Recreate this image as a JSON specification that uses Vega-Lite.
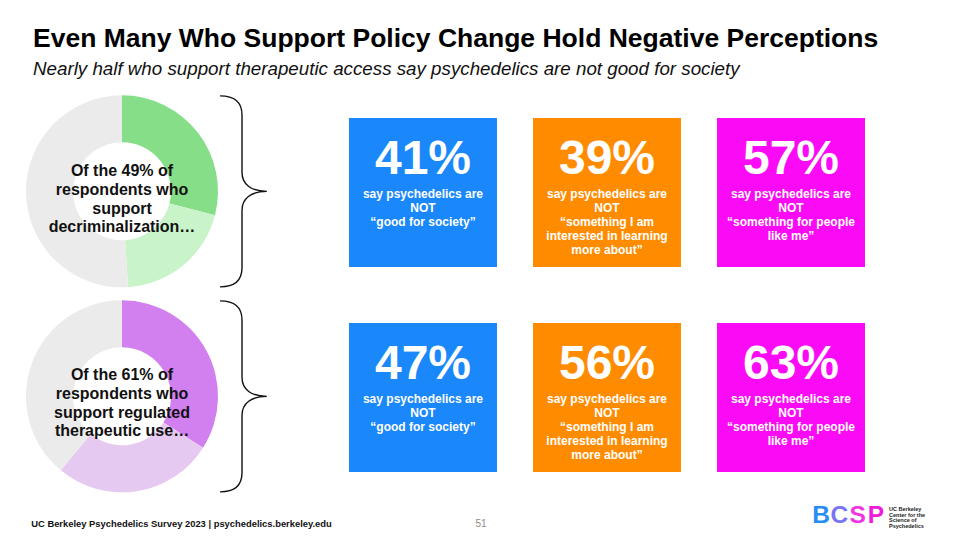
{
  "$schema": "https://vega.github.io/schema/vega-lite/v6.json",
  "background": "white",
  "padding": {"left": 26, "top": 25, "right": 0, "bottom": 0},
  "spacing": 8,
  "resolve": {"scale": {"color": "independent"}},
  "config": {"view": {"stroke": null}, "font": "Liberation Sans"},
  "title": {
    "text": "Even Many Who Support Policy Change Hold Negative Perceptions",
    "subtitle": "Nearly half who support therapeutic access say psychedelics are not good for society",
    "anchor": "start",
    "frame": "group",
    "dx": 7,
    "font": "Liberation Sans",
    "fontSize": 26.5,
    "fontWeight": "bold",
    "color": "#000000",
    "subtitleFont": "Liberation Sans",
    "subtitleFontSize": 18.75,
    "subtitleFontStyle": "italic",
    "subtitleColor": "#111111",
    "subtitlePadding": 8,
    "offset": 14
  },
  "datasets": {
    "donuts": [
      {"group": "decriminalization", "segment": "Decriminalization: other views", "share": 29, "rank": 1},
      {"group": "decriminalization", "segment": "Decriminalization: not good for society", "share": 20, "rank": 2},
      {"group": "decriminalization", "segment": "Decriminalization: do not support", "share": 51, "rank": 3},
      {"group": "therapeutic", "segment": "Therapeutic: other views", "share": 34, "rank": 1},
      {"group": "therapeutic", "segment": "Therapeutic: not good for society", "share": 27, "rank": 2},
      {"group": "therapeutic", "segment": "Therapeutic: do not support", "share": 39, "rank": 3}
    ],
    "labels": [
      {"group": "decriminalization", "label": ["Of the 49% of", "respondents who", "support", "decriminalization…"]},
      {"group": "therapeutic", "label": ["Of the 61% of", "respondents who", "support regulated", "therapeutic use…"]}
    ],
    "boxes": [
      {"group": "decriminalization", "measure": "good for society", "pct": 0.41, "desc": ["say psychedelics are", "NOT", "“good for society”"]},
      {"group": "decriminalization", "measure": "interested in learning", "pct": 0.39, "desc": ["say psychedelics are", "NOT", "“something I am", "interested in learning", "more about”"]},
      {"group": "decriminalization", "measure": "for people like me", "pct": 0.57, "desc": ["say psychedelics are", "NOT", "“something for people", "like me”"]},
      {"group": "therapeutic", "measure": "good for society", "pct": 0.47, "desc": ["say psychedelics are", "NOT", "“good for society”"]},
      {"group": "therapeutic", "measure": "interested in learning", "pct": 0.56, "desc": ["say psychedelics are", "NOT", "“something I am", "interested in learning", "more about”"]},
      {"group": "therapeutic", "measure": "for people like me", "pct": 0.63, "desc": ["say psychedelics are", "NOT", "“something for people", "like me”"]}
    ],
    "braces": [
      {"group": "decriminalization"},
      {"group": "therapeutic"}
    ],
    "footer": [
      {"item": "source", "text": "UC Berkeley Psychedelics Survey 2023 | psychedelics.berkeley.edu"},
      {"item": "page", "text": "51"},
      {"item": "org", "text": ["UC Berkeley", "Center for the", "Science of", "Psychedelics"]}
    ],
    "logo": [
      {"letter": "B"},
      {"letter": "C"},
      {"letter": "S"},
      {"letter": "P"}
    ]
  },
  "vconcat": [
    {
      "vconcat": [
        {
          "hconcat": [
            {
              "hconcat": [
                {
                  "width": 192,
                  "height": 192,
                  "layer": [
                    {
                      "data": {"name": "donuts"},
                      "transform": [{"filter": "datum.group === 'decriminalization'"}],
                      "mark": {"type": "arc", "innerRadius": 49, "outerRadius": 96},
                      "encoding": {
                        "theta": {"field": "share", "type": "quantitative", "stack": true},
                        "order": {"field": "rank", "type": "quantitative"},
                        "color": {
                          "field": "segment",
                          "type": "nominal",
                          "legend": null,
                          "scale": {
                            "domain": ["Decriminalization: other views", "Decriminalization: not good for society", "Decriminalization: do not support", "Therapeutic: other views", "Therapeutic: not good for society", "Therapeutic: do not support"],
                            "range": ["#86df88", "#c9f3c9", "#ebebeb", "#d27ff0", "#e6c9f1", "#ebebeb"]
                          }
                        }
                      }
                    },
                    {
                      "data": {"name": "labels"},
                      "transform": [{"filter": "datum.group === 'decriminalization'"}],
                      "mark": {"type": "text", "fontSize": 16, "fontWeight": "bold", "color": "#111111", "lineHeight": 18.7, "baseline": "middle", "dy": -20},
                      "encoding": {"text": {"field": "label"}}
                    }
                  ]
                },
                {
                  "width": 48,
                  "height": 192,
                  "data": {"name": "braces"},
                  "transform": [{"filter": "datum.group === 'decriminalization'"}],
                  "mark": {"type": "point", "shape": "M -0.23 -1 C -0.08 -1 0 -0.93 0 -0.8 L 0 -0.2 C 0 -0.07 0.1 0 0.26 0 C 0.1 0 0 0.07 0 0.2 L 0 0.8 C 0 0.93 -0.08 1 -0.23 1", "size": 36481, "filled": false, "stroke": "#111111", "strokeWidth": 1.4, "opacity": 1},
                  "encoding": {}
                }
              ],
              "spacing": 0,
              "bounds": "flush"
            },
            {
              "width": 516,
              "height": 149,
              "data": {"name": "boxes"},
              "transform": [{"filter": "datum.group === 'decriminalization'"}],
              "encoding": {
                "x": {"field": "measure", "type": "nominal", "axis": null, "scale": {"domain": ["good for society", "interested in learning", "for people like me"], "paddingInner": 0.1957, "paddingOuter": 0}}
              },
              "layer": [
                {
                  "mark": {"type": "bar"},
                  "encoding": {
                    "color": {"field": "measure", "type": "nominal", "legend": null, "scale": {"domain": ["good for society", "interested in learning", "for people like me"], "range": ["#1a88fa", "#ff8b00", "#fb0af5"]}}
                  }
                },
                {
                  "mark": {"type": "text", "fontSize": 48, "fontWeight": "bold", "color": "white", "baseline": "alphabetic", "dy": -18.5},
                  "encoding": {"text": {"field": "pct", "type": "quantitative", "format": ".0%"}}
                },
                {
                  "mark": {"type": "text", "fontSize": 12, "fontWeight": "bold", "color": "white", "baseline": "top", "lineHeight": 14, "dy": -4},
                  "encoding": {"text": {"field": "desc"}}
                }
              ]
            }
          ],
          "spacing": 79,
          "center": true,
          "resolve": {"scale": {"color": "independent"}}
        },
        {
          "hconcat": [
            {
              "hconcat": [
                {
                  "width": 192,
                  "height": 192,
                  "layer": [
                    {
                      "data": {"name": "donuts"},
                      "transform": [{"filter": "datum.group === 'therapeutic'"}],
                      "mark": {"type": "arc", "innerRadius": 49, "outerRadius": 96},
                      "encoding": {
                        "theta": {"field": "share", "type": "quantitative", "stack": true},
                        "order": {"field": "rank", "type": "quantitative"},
                        "color": {
                          "field": "segment",
                          "type": "nominal",
                          "legend": null,
                          "scale": {
                            "domain": ["Decriminalization: other views", "Decriminalization: not good for society", "Decriminalization: do not support", "Therapeutic: other views", "Therapeutic: not good for society", "Therapeutic: do not support"],
                            "range": ["#86df88", "#c9f3c9", "#ebebeb", "#d27ff0", "#e6c9f1", "#ebebeb"]
                          }
                        }
                      }
                    },
                    {
                      "data": {"name": "labels"},
                      "transform": [{"filter": "datum.group === 'therapeutic'"}],
                      "mark": {"type": "text", "fontSize": 16, "fontWeight": "bold", "color": "#111111", "lineHeight": 18.7, "baseline": "middle", "dy": -21},
                      "encoding": {"text": {"field": "label"}}
                    }
                  ]
                },
                {
                  "width": 48,
                  "height": 192,
                  "data": {"name": "braces"},
                  "transform": [{"filter": "datum.group === 'therapeutic'"}],
                  "mark": {"type": "point", "shape": "M -0.23 -1 C -0.08 -1 0 -0.93 0 -0.8 L 0 -0.2 C 0 -0.07 0.1 0 0.26 0 C 0.1 0 0 0.07 0 0.2 L 0 0.8 C 0 0.93 -0.08 1 -0.23 1", "size": 36481, "filled": false, "stroke": "#111111", "strokeWidth": 1.4, "opacity": 1},
                  "encoding": {}
                }
              ],
              "spacing": 0,
              "bounds": "flush"
            },
            {
              "width": 516,
              "height": 149,
              "data": {"name": "boxes"},
              "transform": [{"filter": "datum.group === 'therapeutic'"}],
              "encoding": {
                "x": {"field": "measure", "type": "nominal", "axis": null, "scale": {"domain": ["good for society", "interested in learning", "for people like me"], "paddingInner": 0.1957, "paddingOuter": 0}}
              },
              "layer": [
                {
                  "mark": {"type": "bar"},
                  "encoding": {
                    "color": {"field": "measure", "type": "nominal", "legend": null, "scale": {"domain": ["good for society", "interested in learning", "for people like me"], "range": ["#1a88fa", "#ff8b00", "#fb0af5"]}}
                  }
                },
                {
                  "mark": {"type": "text", "fontSize": 48, "fontWeight": "bold", "color": "white", "baseline": "alphabetic", "dy": -18.5},
                  "encoding": {"text": {"field": "pct", "type": "quantitative", "format": ".0%"}}
                },
                {
                  "mark": {"type": "text", "fontSize": 12, "fontWeight": "bold", "color": "white", "baseline": "top", "lineHeight": 14, "dy": -4},
                  "encoding": {"text": {"field": "desc"}}
                }
              ]
            }
          ],
          "spacing": 79,
          "center": true,
          "resolve": {"scale": {"color": "independent"}}
        }
      ],
      "spacing": 8,
      "resolve": {"scale": {"color": "independent"}}
    },
    {
      "hconcat": [
        {
          "hconcat": [
            {
              "width": 311,
              "height": 34,
              "data": {"name": "footer"},
              "transform": [{"filter": "datum.item === 'source'"}],
              "mark": {"type": "text", "fontSize": 9.4, "fontWeight": "bold", "color": "#111111", "baseline": "middle"},
              "encoding": {"text": {"field": "text"}}
            },
            {
              "width": 288,
              "height": 34,
              "data": {"name": "footer"},
              "transform": [{"filter": "datum.item === 'page'"}],
              "mark": {"type": "text", "fontSize": 10, "color": "#8a8a8a", "baseline": "middle"},
              "encoding": {"text": {"field": "text"}}
            }
          ],
          "spacing": 0,
          "bounds": "flush"
        },
        {
          "hconcat": [
            {
              "width": 73,
              "height": 34,
              "data": {"name": "logo"},
              "mark": {"type": "text", "fontSize": 24.5, "fontWeight": "bold", "baseline": "middle", "dy": -8},
              "encoding": {
                "x": {"field": "letter", "type": "nominal", "axis": null, "scale": {"domain": ["B", "C", "S", "P"], "paddingInner": 0, "paddingOuter": 0}},
                "text": {"field": "letter"},
                "color": {"field": "letter", "type": "nominal", "legend": null, "scale": {"domain": ["B", "C", "S", "P"], "range": ["#2a8df2", "#7a74f0", "#ef35e4", "#ee1bdc"]}}
              }
            },
            {
              "width": 36,
              "height": 34,
              "data": {"name": "footer"},
              "transform": [{"filter": "datum.item === 'org'"}],
              "mark": {"type": "text", "fontSize": 5.5, "fontWeight": "bold", "color": "#222222", "align": "left", "baseline": "middle", "lineHeight": 5.6, "dx": -18, "dy": -15},
              "encoding": {"text": {"field": "text"}}
            }
          ],
          "spacing": 4,
          "bounds": "flush"
        }
      ],
      "spacing": 187,
      "resolve": {"scale": {"color": "independent"}}
    }
  ]
}
